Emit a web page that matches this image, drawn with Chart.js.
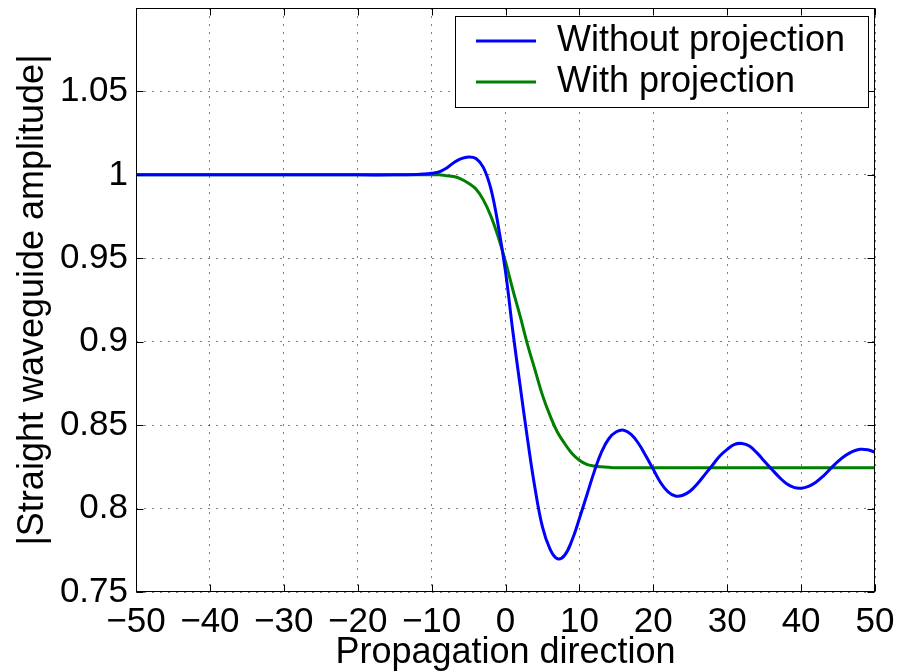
<!DOCTYPE html>
<html>
<head>
<meta charset="utf-8">
<script src="https://cdn.jsdelivr.net/npm/chart.js@4"></script>
<style>
  html, body { margin: 0; padding: 0; background: #fff; }
  #wrap { width: 900px; height: 672px; }
</style>
</head>
<body>
<div id="wrap"><canvas id="c" width="900" height="672"></canvas></div>
<script>
// propagation positions
const xs = [-50, -40, -30, -20, -15, -12, -11, -10, -9, -8, -7, -6, -5, -4, -3, -2, -1,
  0, 1, 2, 3, 4, 5, 6, 7, 8, 9, 10, 11, 12, 13, 14, 15, 16, 17, 18, 19, 20,
  21, 22, 23, 24, 25, 26, 27, 28, 29, 30, 31, 32, 33, 34, 35, 36, 37, 38, 39, 40,
  41, 42, 43, 44, 45, 46, 47, 48, 49, 50];

// amplitude, without projection
const withoutProj = [1, 1, 1, 1, 1, 1.0002, 1.0005, 1.001, 1.0017, 1.004, 1.0073, 1.0097, 1.0107, 1.0098, 1.0045, 0.992, 0.970,
  0.942, 0.906, 0.873, 0.841, 0.812, 0.789, 0.776, 0.770, 0.772, 0.781, 0.794, 0.808, 0.822, 0.834, 0.842, 0.846, 0.847, 0.8445, 0.839, 0.8315, 0.8235,
  0.8155, 0.810, 0.8075, 0.808, 0.8105, 0.815, 0.8205, 0.826, 0.8315, 0.8355, 0.8385, 0.839, 0.8375, 0.8335, 0.8285, 0.8237, 0.819, 0.815, 0.8127, 0.8122,
  0.8133, 0.8158, 0.8195, 0.824, 0.8283, 0.8318, 0.8343, 0.8355, 0.8352, 0.8338];

// amplitude, with projection
const withProj = [1, 1, 1, 1, 1, 1, 1, 1, 1, 0.9995, 0.999, 0.9975, 0.995, 0.9915, 0.985, 0.9755, 0.963,
  0.948, 0.931, 0.915, 0.898, 0.883, 0.868, 0.856, 0.846, 0.839, 0.833, 0.829, 0.8265, 0.8255, 0.825, 0.8247, 0.8245, 0.8245, 0.8245, 0.8245, 0.8245, 0.8245,
  0.8245, 0.8245, 0.8245, 0.8245, 0.8245, 0.8245, 0.8245, 0.8245, 0.8245, 0.8245, 0.8245, 0.8245, 0.8245, 0.8245, 0.8245, 0.8245, 0.8245, 0.8245, 0.8245, 0.8245,
  0.8245, 0.8245, 0.8245, 0.8245, 0.8245, 0.8245, 0.8245, 0.8245, 0.8245, 0.8245];

const seriesNames = ['Without projection', 'With projection'];
const seriesColors = ['#0000ff', '#008000'];

const xTicks = [-50, -40, -30, -20, -10, 0, 10, 20, 30, 40, 50];
const xTickLabels = ['\u221250', '\u221240', '\u221230', '\u221220', '\u221210', '0', '10', '20', '30', '40', '50'];
const yTicks = [0.75, 0.8, 0.85, 0.9, 0.95, 1, 1.05];
const yTickLabels = ['0.75', '0.8', '0.85', '0.9', '0.95', '1', '1.05'];

const FONT = '"Liberation Sans", Arial, Helvetica, sans-serif';

function pts(vals) {
  return xs.map((x, i) => ({ x: x, y: vals[i] }));
}

// box round the plot, inward tick marks and the legend (MATLAB look)
const matlabFrame = {
  id: 'matlabFrame',
  afterDraw(chart) {
    const ctx = chart.ctx;
    const a = chart.chartArea;
    const sx = chart.scales.x, sy = chart.scales.y;
    const L = Math.round(a.left) + 0.5, R = Math.round(a.right) - 0.5;
    const T = Math.round(a.top) + 0.5, B = Math.round(a.bottom) - 0.5;
    ctx.save();
    ctx.strokeStyle = '#000';
    ctx.lineWidth = 1;
    ctx.strokeRect(L, T, R - L, B - T);
    ctx.beginPath();
    xTicks.forEach(v => {
      const px = Math.round(sx.getPixelForValue(v)) + 0.5;
      ctx.moveTo(px, B); ctx.lineTo(px, B - 7);
      ctx.moveTo(px, T); ctx.lineTo(px, T + 7);
    });
    yTicks.forEach(v => {
      const py = Math.round(sy.getPixelForValue(v)) + 0.5;
      ctx.moveTo(L, py); ctx.lineTo(L + 7, py);
      ctx.moveTo(R, py); ctx.lineTo(R - 7, py);
    });
    ctx.stroke();

    // legend
    const lx = 455.5, ly = 16.5, lw = 413, lh = 91;
    ctx.fillStyle = '#fff';
    ctx.fillRect(lx, ly, lw, lh);
    ctx.strokeRect(lx, ly, lw, lh);
    ctx.font = '36px ' + FONT;
    ctx.textBaseline = 'middle';
    ctx.textAlign = 'left';
    const rows = [41, 82];
    chart.data.datasets.forEach((ds, i) => {
      ctx.strokeStyle = ds.borderColor;
      ctx.lineWidth = 3;
      ctx.beginPath();
      ctx.moveTo(476, rows[i]); ctx.lineTo(536, rows[i]);
      ctx.stroke();
      ctx.fillStyle = '#000';
      ctx.fillText(ds.label, 557, rows[i]);
    });
    ctx.restore();
  }
};

new Chart(document.getElementById('c'), {
  type: 'line',
  data: {
    datasets: [
      { label: seriesNames[0], data: pts(withoutProj), borderColor: seriesColors[0], borderWidth: 3, pointRadius: 0, tension: 0.4, fill: false },
      { label: seriesNames[1], data: pts(withProj), borderColor: seriesColors[1], borderWidth: 3, pointRadius: 0, tension: 0.4, fill: false }
    ]
  },
  options: {
    responsive: false,
    animation: false,
    devicePixelRatio: 1,
    layout: { padding: { top: 8, right: 25, left: 0, bottom: 0 } },
    plugins: { legend: { display: false }, tooltip: { enabled: false } },
    scales: {
      x: {
        type: 'linear',
        min: -50, max: 50,
        afterBuildTicks: s => { s.ticks = xTicks.map(v => ({ value: v })); },
        afterFit: s => { s.height = 80; s.paddingLeft = 0; s.paddingRight = 0; },
        ticks: {
          callback: (v, i) => xTickLabels[i],
          autoSkip: false, maxRotation: 0, padding: 9,
          color: '#000', font: { family: FONT, size: 35 }
        },
        grid: { color: 'rgba(0,0,0,0.5)', drawTicks: false, lineWidth: 1 },
        border: { display: false, dash: [2, 6] },
        title: {
          display: true, text: 'Propagation direction', color: '#000',
          font: { family: FONT, size: 36, lineHeight: 1 },
          padding: { top: 0, bottom: 1 }
        }
      },
      y: {
        type: 'linear',
        min: 0.75, max: 1.1,
        afterBuildTicks: s => { s.ticks = yTicks.map(v => ({ value: v })); },
        afterFit: s => { s.width = 136; s.paddingTop = 0; s.paddingBottom = 0; },
        ticks: {
          callback: (v, i) => yTickLabels[i],
          autoSkip: false, padding: 8,
          color: '#000', font: { family: FONT, size: 35 }
        },
        grid: { color: 'rgba(0,0,0,0.5)', drawTicks: false, lineWidth: 1 },
        border: { display: false, dash: [2, 6] },
        title: {
          display: true, text: '|Straight waveguide amplitude|', color: '#000',
          font: { family: FONT, size: 36, lineHeight: 1 },
          padding: { top: 15, bottom: 0 }
        }
      }
    }
  },
  plugins: [matlabFrame]
});
</script>
</body>
</html>
